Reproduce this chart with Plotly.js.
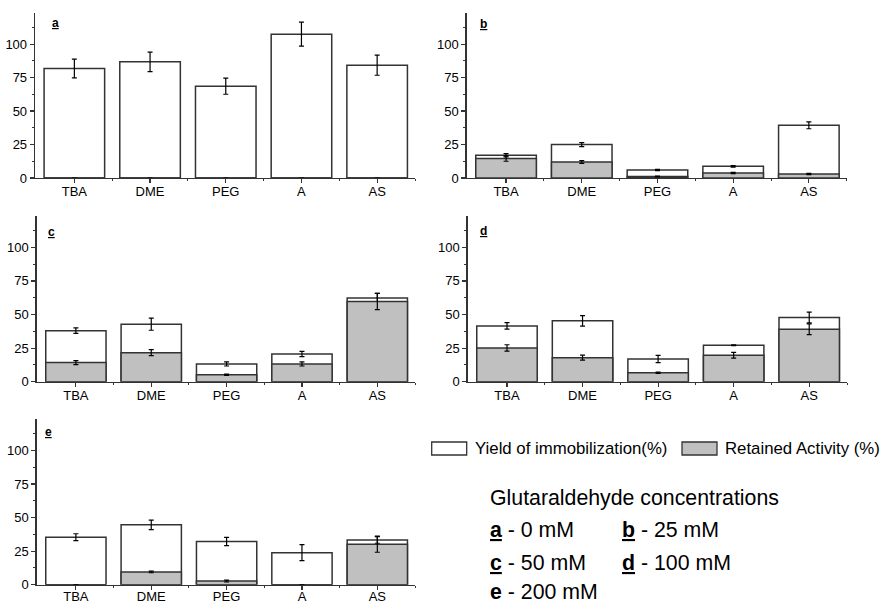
<!DOCTYPE html>
<html><head><meta charset="utf-8">
<script src="https://cdn.plot.ly/plotly-3.0.1.min.js"></script>
<style>html,body{margin:0;padding:0;background:#fff}#chart{width:884px;height:603px}</style>
</head><body><div id="chart"></div>
<script>
// ---- data ----
const categories = ['TBA', 'DME', 'PEG', 'A', 'AS'];
const panelLetters = ['a', 'b', 'c', 'd', 'e'];
const concentrations = ['0 mM', '25 mM', '50 mM', '100 mM', '200 mM'];
const seriesNames = ['Yield of immobilization(%)', 'Retained Activity (%)'];
const yTickVals = [0, 25, 50, 75, 100];

const yieldA = [81.8, 86.8, 68.6, 107.5, 84.3];
const yieldErrA = [7, 7.3, 6, 9, 7.5];
const retainedA = [0, 0, 0, 0, 0];
const retainedErrA = [0, 0, 0, 0, 0];

const yieldB = [17, 25, 6, 8.7, 39.4];
const yieldErrB = [1.2, 1.5, 0.5, 0.5, 2.6];
const retainedB = [14.5, 12, 1.2, 3.7, 3];
const retainedErrB = [2, 1, 0.3, 0.5, 0.5];

const yieldC = [38, 42.8, 13.2, 20.6, 62.2];
const yieldErrC = [2, 4.5, 1.5, 2, 3.5];
const retainedC = [14.2, 21.6, 5.2, 13.2, 59.7];
const retainedErrC = [1.5, 2.2, 0.5, 1.5, 6];

const yieldD = [41.5, 45.3, 16.9, 27.1, 47.8];
const yieldErrD = [2.4, 3.9, 2.7, 0.3, 4];
const retainedD = [25.1, 17.9, 6.7, 19.7, 39.1];
const retainedErrD = [2.4, 1.9, 0.5, 2.1, 4];

const yieldE = [35.4, 44.6, 32.2, 23.9, 33.4];
const yieldErrE = [2.6, 3.6, 3.1, 6, 2.5];
const retainedE = [0, 9.5, 2.7, 0, 30.2];
const retainedErrE = [0, 0.6, 0.7, 0, 6];

const yieldAll = [yieldA, yieldB, yieldC, yieldD, yieldE];
const yieldErrAll = [yieldErrA, yieldErrB, yieldErrC, yieldErrD, yieldErrE];
const retainedAll = [retainedA, retainedB, retainedC, retainedD, retainedE];
const retainedErrAll = [retainedErrA, retainedErrB, retainedErrC, retainedErrD, retainedErrE];

// ---- layout geometry (pixels in 884x603) ----
const W = 884, H = 603;
const boxes = [
  {x0: 35,    x1: 415,   y0: 13,    y1: 178,   lx: 50,    ly: 23,    so: -3},
  {x0: 466.7, x1: 846.7, y0: 13,    y1: 178,   lx: 477.7, ly: 24,    so: -3},
  {x0: 36.7,  x1: 415,   y0: 216,   y1: 381.7, lx: 45.7,  ly: 232,   so: -3},
  {x0: 467.7, x1: 847,   y0: 216,   y1: 381.7, lx: 478.3, ly: 231.5, so: -3},
  {x0: 36.7,  x1: 415,   y0: 419.3, y1: 584.7, lx: 43.3,  ly: 431.5, so: -5}
];
const px = v => v / W;
const py = v => 1 - v / H;

const FONT = 'Liberation Sans, Arial, sans-serif';
const LINE = '#333333';
const GRAY = '#c0c0c0';
const idx = categories.map((c, i) => i);

const traces = [];
const layout = {
  width: W, height: H,
  margin: {l: 0, r: 0, t: 0, b: 0},
  paper_bgcolor: '#ffffff', plot_bgcolor: 'rgba(0,0,0,0)',
  barmode: 'overlay', bargap: 0.2,
  showlegend: false,
  font: {family: FONT, size: 13, color: '#000'},
  annotations: [], shapes: []
};

boxes.forEach((b, i) => {
  const sfx = i === 0 ? '' : String(i + 1);
  const xa = 'x' + sfx, ya = 'y' + sfx;
  traces.push({
    type: 'bar', name: seriesNames[0], x: idx, y: yieldAll[i], xaxis: xa, yaxis: ya,
    width: 0.8,
    marker: {color: '#ffffff', line: {color: LINE, width: 1.5}},
    error_y: {type: 'data', array: yieldErrAll[i], visible: true, color: '#000', thickness: 1.2, width: 2.5}
  });
  traces.push({
    type: 'bar', name: seriesNames[1], x: idx, y: retainedAll[i], xaxis: xa, yaxis: ya,
    width: 0.8,
    marker: {color: GRAY, line: {color: LINE, width: 1.5}},
    error_y: {type: 'data', array: retainedErrAll[i], visible: true, color: '#000', thickness: 1.2, width: 2.5}
  });
  layout['xaxis' + sfx] = {
    domain: [px(b.x0), px(b.x1)], anchor: ya, type: 'linear',
    range: [-0.52, 4.5], fixedrange: true,
    tickmode: 'array', tickvals: idx, ticktext: categories,
    ticks: 'outside', ticklen: 4, tickwidth: 1.2, tickcolor: LINE,
    ticklabelstandoff: b.so,
    showline: true, linecolor: LINE, linewidth: 1.3,
    showgrid: false, zeroline: false,
    tickfont: {family: FONT, size: 13, color: '#000'},
    minor: {tickmode: 'array', tickvals: [0.5, 1.5, 2.5, 3.5, 4.5], ticks: 'outside', ticklen: 2, tickwidth: 1, tickcolor: LINE}
  };
  layout['yaxis' + sfx] = {
    domain: [py(b.y1), py(b.y0)], anchor: xa, type: 'linear',
    range: [0, 123.3], fixedrange: true,
    tickmode: 'array', tickvals: yTickVals,
    ticks: 'outside', ticklen: 4, tickwidth: 1.2, tickcolor: LINE,
    showline: true, linecolor: LINE, linewidth: 1.3,
    showgrid: false, zeroline: false,
    tickfont: {family: FONT, size: 13, color: '#000'},
    minor: {tickmode: 'array', tickvals: [12.5, 37.5, 62.5, 87.5, 112.5], ticks: 'outside', ticklen: 2, tickwidth: 1, tickcolor: LINE}
  };
  layout.annotations.push({
    xref: 'paper', yref: 'paper', x: px(b.lx), y: py(b.ly), xanchor: 'left', yanchor: 'middle',
    text: '<b><u>' + panelLetters[i] + '</u></b>', showarrow: false,
    font: {family: FONT, size: 12, color: '#000'}
  });
});

// legend (drawn manually)
const legendItems = [
  {bx0: 431.7, bx1: 466.7, tx: 473.3, fill: '#ffffff', text: seriesNames[0]},
  {bx0: 682, bx1: 717, tx: 723.3, fill: GRAY, text: seriesNames[1]}
];
legendItems.forEach(it => {
  layout.shapes.push({type: 'rect', xref: 'paper', yref: 'paper',
    x0: px(it.bx0), x1: px(it.bx1), y0: py(455), y1: py(442),
    fillcolor: it.fill, line: {color: LINE, width: 1.3}});
  layout.annotations.push({xref: 'paper', yref: 'paper', x: px(it.tx), y: py(448.5),
    xanchor: 'left', yanchor: 'middle', text: it.text, showarrow: false,
    font: {family: FONT, size: 16.8, color: '#000'}});
});

// glutaraldehyde key
const keyFont = {family: FONT, size: 21.3, color: '#000'};
layout.annotations.push({xref: 'paper', yref: 'paper', x: px(487.7), y: py(497.7),
  xanchor: 'left', yanchor: 'middle', text: 'Glutaraldehyde concentrations', showarrow: false, font: keyFont});
const keyPos = [
  {x: 487.7, y: 530}, {x: 620, y: 530},
  {x: 487.7, y: 563}, {x: 620, y: 563},
  {x: 487.7, y: 592}
];
keyPos.forEach((p, i) => {
  const letter = i < 4 ? '<b><u>' + panelLetters[i] + '</u></b>' : '<b>' + panelLetters[i] + '</b>';
  layout.annotations.push({xref: 'paper', yref: 'paper', x: px(p.x), y: py(p.y),
    xanchor: 'left', yanchor: 'middle', text: letter + ' - ' + concentrations[i], showarrow: false, font: keyFont});
});

Plotly.newPlot('chart', traces, layout, {staticPlot: true, displayModeBar: false});
</script>
</body></html>
